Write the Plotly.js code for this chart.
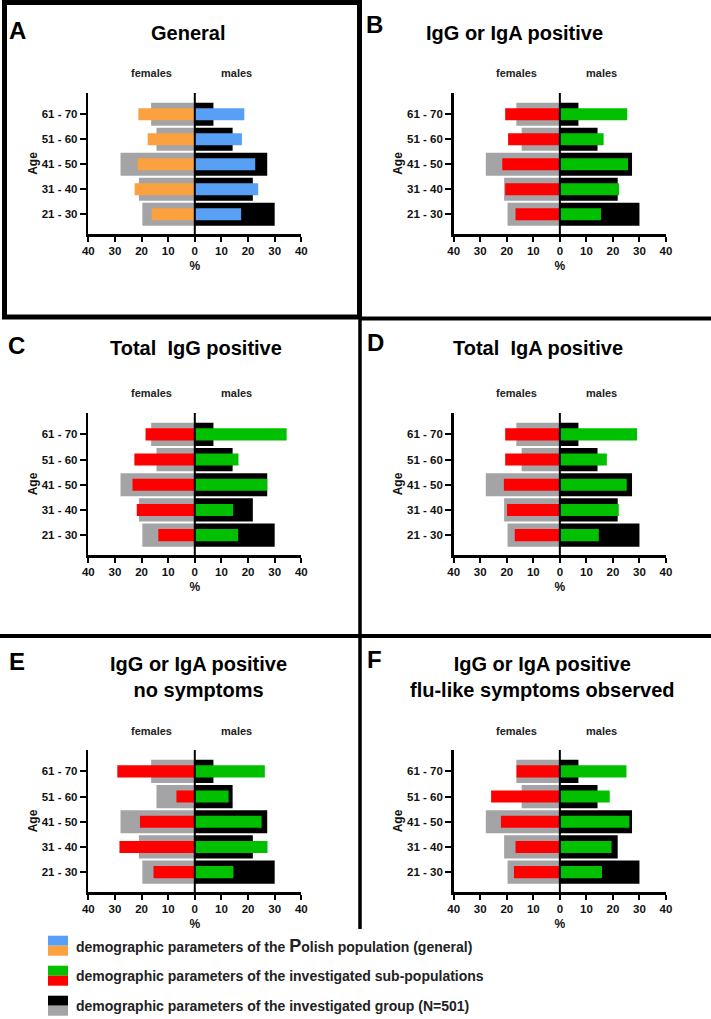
<!DOCTYPE html>
<html>
<head>
<meta charset="utf-8">
<script src="https://cdn.plot.ly/plotly-3.0.1.min.js"></script>
<style>
html,body{margin:0;padding:0;background:#fff;}
#chart{width:711px;height:1019px;}
</style>
</head>
<body>
<div id="chart"></div>
<script>
// ---------------- DATA ----------------
const ageGroups = ['21 - 30', '31 - 40', '41 - 50', '51 - 60', '61 - 70'];
const xTickVals = [-40, -30, -20, -10, 0, 10, 20, 30, 40];
const xTickText = ['40', '30', '20', '10', '0', '10', '20', '30', '40'];

// investigated group (N=501) — same background in every panel
const groupFemales = [19.7, 21.0, 27.9, 14.4, 16.4];
const groupMales   = [30.0, 21.8, 27.2, 14.2, 7.0];

// A: Polish population (general)
const polishFemales = [16.2, 22.6, 21.5, 17.7, 21.2];
const polishMales   = [17.4, 23.8, 22.7, 17.7, 18.6];

// B: IgG or IgA positive
const igGorAFemales = [16.7, 20.6, 21.7, 19.5, 20.6];
const igGorAMales   = [15.5, 22.3, 25.7, 16.5, 25.4];

// C: Total IgG positive
const igGFemales = [13.7, 21.8, 23.4, 22.7, 18.5];
const igGMales   = [16.3, 14.4, 27.2, 16.4, 34.5];

// D: Total IgA positive
const igAFemales = [17.0, 19.9, 21.1, 20.6, 20.6];
const igAMales   = [14.7, 22.2, 25.2, 17.7, 29.1];

// E: IgG or IgA positive, no symptoms
const noSymptomsFemales = [15.5, 28.3, 20.6, 6.9, 29.1];
const noSymptomsMales   = [14.5, 27.3, 25.1, 12.7, 26.3];

// F: IgG or IgA positive, flu-like symptoms observed
const fluLikeFemales = [17.3, 16.7, 22.2, 25.9, 16.3];
const fluLikeMales   = [15.9, 19.5, 26.2, 18.8, 25.1];

const panelLetters = ['A', 'B', 'C', 'D', 'E', 'F'];
const panelTitles = ['General', 'IgG or IgA positive', 'Total  IgG positive', 'Total  IgA positive',
  'IgG or IgA positive<br>no symptoms', 'IgG or IgA positive<br>flu-like symptoms observed'];
const legendLabels = [
  'demographic parameters of the <span style="font-size:18px">P</span>olish population (general)',
  'demographic parameters of the investigated sub-populations',
  'demographic parameters of the investigated group (N=501)'
];

// ---------------- STYLE ----------------
const W = 711, H = 1019;
const FONT = 'Liberation Sans, Arial, Helvetica, sans-serif';
const C = {
  gray: '#a4a4a7', black: '#000000', orange: '#fba13f', blue: '#57a0f6',
  red: '#ff0000', green: '#00c000', text: '#111111'
};
const px = v => v / W;
const py = v => 1 - v / H;

const panels = [
  {fem: polishFemales, mal: polishMales, fc: C.orange, mc: C.blue},
  {fem: igGorAFemales, mal: igGorAMales, fc: C.red, mc: C.green},
  {fem: igGFemales, mal: igGMales, fc: C.red, mc: C.green},
  {fem: igAFemales, mal: igAMales, fc: C.red, mc: C.green},
  {fem: noSymptomsFemales, mal: noSymptomsMales, fc: C.red, mc: C.green},
  {fem: fluLikeFemales, mal: fluLikeMales, fc: C.red, mc: C.green}
];

const colX = [[88.3, 301.3], [453.7, 666.0]];
const rowY = [[93, 234], [413, 555], [750, 892]];
const zeroX = [194.8, 559.9];

// title/letter positions (px)
const titlePos = [[188, 33], [514, 33], [196, 348], [538, 348], [198, 677], [542, 677]];
const letterPos = [[17.5, 30], [374, 25], [16, 346], [375, 342.5], [16.5, 661], [374.5, 659.7]];
const sexLabelY = [73.3, 73.3, 393.3, 393.3, 730.7, 730.7];

const data = [];
const layout = {
  width: W, height: H,
  margin: {l: 0, r: 0, t: 0, b: 0, pad: 0},
  paper_bgcolor: '#fff', plot_bgcolor: 'rgba(0,0,0,0)',
  showlegend: false, barmode: 'overlay', hovermode: false,
  font: {family: FONT, color: C.text},
  annotations: [], shapes: []
};

panels.forEach((p, i) => {
  const n = i === 0 ? '' : String(i + 1);
  const xa = 'x' + n, ya = 'y' + n;
  const col = i % 2, row = Math.floor(i / 2);
  const neg = arr => arr.map(v => -v);

  data.push({type: 'bar', orientation: 'h', y: ageGroups, x: neg(groupFemales), width: 0.92,
    marker: {color: C.gray, line: {width: 0}}, xaxis: xa, yaxis: ya});
  data.push({type: 'bar', orientation: 'h', y: ageGroups, x: groupMales, width: 0.92,
    marker: {color: C.black, line: {width: 0}}, xaxis: xa, yaxis: ya});
  data.push({type: 'bar', orientation: 'h', y: ageGroups, x: neg(p.fem), width: 0.48,
    marker: {color: p.fc, line: {width: 0}}, xaxis: xa, yaxis: ya});
  data.push({type: 'bar', orientation: 'h', y: ageGroups, x: p.mal, width: 0.48,
    marker: {color: p.mc, line: {width: 0}}, xaxis: xa, yaxis: ya});

  layout['xaxis' + n] = {
    domain: [px(colX[col][0]), px(colX[col][1])], anchor: ya,
    range: [-40, 40], tickvals: xTickVals, ticktext: xTickText,
    showgrid: false, zeroline: false, showline: true, linecolor: '#000', linewidth: 2.5,
    ticks: 'outside', ticklen: 5, tickwidth: 2, tickcolor: '#000',
    tickfont: {size: 11.5, family: FONT, weight: 'bold', color: C.text},
    title: {text: '%', font: {size: 12, family: FONT, weight: 'bold', color: C.text}, standoff: 6},
    fixedrange: true
  };
  layout['yaxis' + n] = {
    domain: [py(rowY[row][1]), py(rowY[row][0])], anchor: xa,
    type: 'category', categoryorder: 'array', categoryarray: ageGroups,
    range: [-0.79, 4.85],
    showgrid: false, zeroline: false, showline: true, linecolor: '#000', linewidth: 2.5,
    ticks: 'outside', ticklen: 6, tickwidth: 2, tickcolor: '#000',
    tickfont: {size: 11.5, family: FONT, weight: 'bold', color: C.text},
    title: {text: 'Age', font: {size: 12, family: FONT, weight: 'bold', color: C.text}, standoff: 2},
    fixedrange: true
  };

  // zero line through the middle of the pyramid
  layout.shapes.push({type: 'line', xref: xa, yref: ya + ' domain', x0: 0, x1: 0, y0: 0, y1: 1,
    line: {color: '#000', width: 2}, layer: 'above'});

  // titles and labels
  layout.annotations.push({xref: 'paper', yref: 'paper', x: px(titlePos[i][0]), y: py(titlePos[i][1]),
    xanchor: 'center', yanchor: 'middle', showarrow: false, text: panelTitles[i],
    font: {size: 20, family: FONT, weight: 'bold', color: '#000'}});
  layout.annotations.push({xref: 'paper', yref: 'paper', x: px(letterPos[i][0]), y: py(letterPos[i][1]),
    xanchor: 'center', yanchor: 'middle', showarrow: false, text: panelLetters[i],
    font: {size: 24, family: FONT, weight: 'bold', color: '#000'}});
  layout.annotations.push({xref: 'paper', yref: 'paper', x: px(zeroX[col] - 43.5), y: py(sexLabelY[i]),
    xanchor: 'center', yanchor: 'middle', showarrow: false, text: 'females',
    font: {size: 11, family: FONT, weight: 'bold', color: '#222'}});
  layout.annotations.push({xref: 'paper', yref: 'paper', x: px(zeroX[col] + 42), y: py(sexLabelY[i]),
    xanchor: 'center', yanchor: 'middle', showarrow: false, text: 'males',
    font: {size: 11, family: FONT, weight: 'bold', color: '#222'}});
});

// panel frame and dividers
layout.shapes.push({type: 'rect', xref: 'paper', yref: 'paper', x0: px(4.5), x1: px(359.5), y0: py(2.5), y1: py(317),
  line: {color: '#000', width: 5}, fillcolor: 'rgba(0,0,0,0)'});
layout.shapes.push({type: 'line', xref: 'paper', yref: 'paper', x0: px(360), x1: px(711), y0: py(318.5), y1: py(318.5),
  line: {color: '#000', width: 4}});
layout.shapes.push({type: 'line', xref: 'paper', yref: 'paper', x0: px(360), x1: px(360), y0: py(317), y1: py(929),
  line: {color: '#000', width: 3.5}});
layout.shapes.push({type: 'line', xref: 'paper', yref: 'paper', x0: px(0), x1: px(711), y0: py(636), y1: py(636),
  line: {color: '#000', width: 4}});

// legend
const legendColors = [[C.blue, C.orange], [C.green, C.red], [C.black, C.gray]];
const legendTop = [935.7, 965.7, 995.7];
legendLabels.forEach((lab, k) => {
  const t = legendTop[k];
  layout.shapes.push({type: 'rect', xref: 'paper', yref: 'paper', x0: px(48), x1: px(68), y0: py(t), y1: py(t + 10),
    line: {width: 0}, fillcolor: legendColors[k][0]});
  layout.shapes.push({type: 'rect', xref: 'paper', yref: 'paper', x0: px(48), x1: px(68), y0: py(t + 10), y1: py(t + 20),
    line: {width: 0}, fillcolor: legendColors[k][1]});
  layout.annotations.push({xref: 'paper', yref: 'paper', x: px(74), y: py(t + 10.5),
    xanchor: 'left', yanchor: 'middle', showarrow: false, text: lab,
    font: {size: 14, family: FONT, weight: 'bold', color: '#222'}});
});

Plotly.newPlot('chart', data, layout, {staticPlot: true, displayModeBar: false});
</script>
</body>
</html>
